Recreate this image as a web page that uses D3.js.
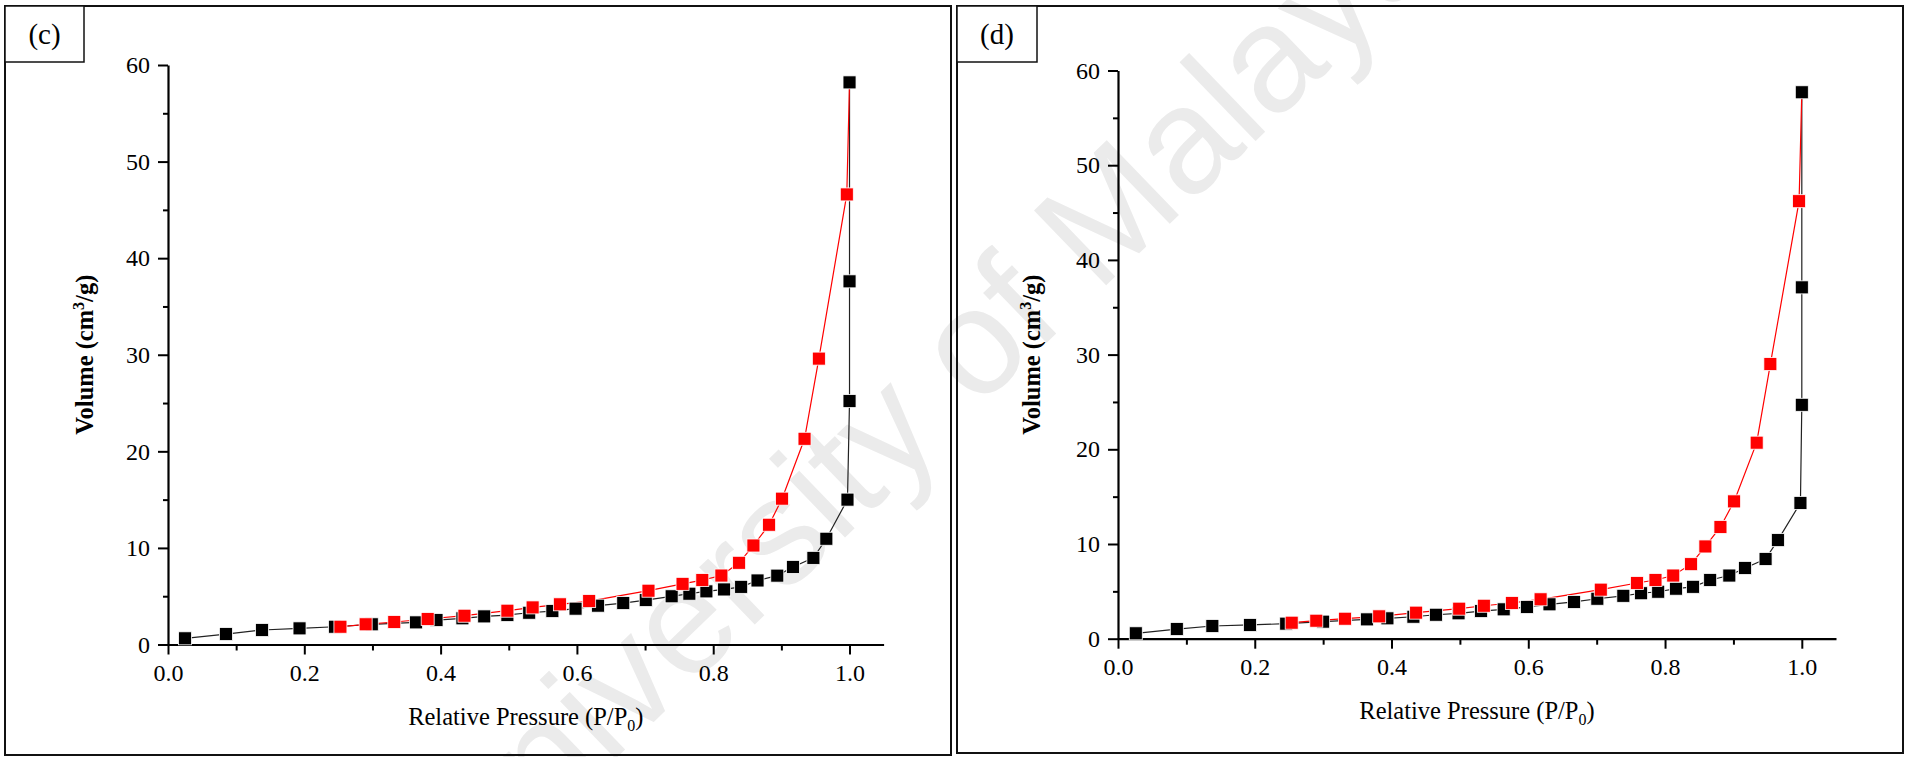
<!DOCTYPE html>
<html>
<head>
<meta charset="utf-8">
<script src="https://cdn.jsdelivr.net/npm/d3@7/dist/d3.min.js"></script>
<style>
  html, body { margin: 0; padding: 0; background: #fff; }
  svg { display: block; }
  text { font-family: "Liberation Serif", "Times New Roman", serif; fill: #000; }
</style>
</head>
<body>
<div id="chart"></div>
<script>
const WIDTH = 1910;
const HEIGHT = 757;
const SERIF = "'Liberation Serif', 'Times New Roman', serif";

// ---- data (P/P0, volume cm3/g) ----
// panel (c): adsorption (black) and desorption (red)
const adsC_P = [0.025, 0.085, 0.138, 0.193, 0.245, 0.299, 0.364, 0.394, 0.432, 0.464, 0.498, 0.530, 0.564, 0.598, 0.631, 0.668, 0.701, 0.739, 0.765, 0.790, 0.816, 0.841, 0.865, 0.894, 0.917, 0.947, 0.966, 0.997, 1.0, 1.0, 1.0];
const adsC_V = [0.64, 1.08, 1.50, 1.67, 1.84, 2.09, 2.29, 2.53, 2.71, 2.91, 3.05, 3.29, 3.46, 3.71, 4.02, 4.29, 4.60, 4.99, 5.26, 5.50, 5.70, 5.97, 6.63, 7.13, 8.03, 8.97, 10.95, 15.0, 25.2, 37.6, 58.2];
const desC_P = [0.996, 0.955, 0.934, 0.901, 0.882, 0.859, 0.838, 0.812, 0.784, 0.755, 0.705, 0.618, 0.575, 0.535, 0.498, 0.435, 0.381, 0.332, 0.290, 0.253];
const desC_V = [46.6, 29.6, 21.3, 15.1, 12.4, 10.25, 8.46, 7.14, 6.67, 6.28, 5.57, 4.50, 4.16, 3.84, 3.50, 2.98, 2.64, 2.33, 2.09, 1.84];

// panel (d)
const adsD_P = [0.026, 0.086, 0.138, 0.193, 0.246, 0.300, 0.364, 0.394, 0.432, 0.465, 0.498, 0.531, 0.564, 0.598, 0.631, 0.667, 0.701, 0.739, 0.765, 0.790, 0.816, 0.841, 0.866, 0.894, 0.917, 0.947, 0.965, 0.998, 1.0, 1.0, 1.0];
const adsD_V = [0.57, 1.02, 1.34, 1.45, 1.59, 1.80, 2.04, 2.15, 2.32, 2.53, 2.68, 2.92, 3.10, 3.35, 3.63, 3.88, 4.22, 4.53, 4.80, 4.96, 5.28, 5.48, 6.20, 6.67, 7.47, 8.42, 10.41, 14.34, 24.7, 37.1, 57.7];
const desD_P = [0.996, 0.954, 0.934, 0.901, 0.881, 0.859, 0.838, 0.812, 0.786, 0.759, 0.706, 0.618, 0.576, 0.535, 0.499, 0.436, 0.382, 0.332, 0.290, 0.254];
const desD_V = [46.2, 29.0, 20.7, 14.5, 11.8, 9.74, 7.87, 6.67, 6.20, 5.88, 5.18, 4.16, 3.77, 3.48, 3.17, 2.75, 2.36, 2.11, 1.90, 1.69];

const xMajor = [0, 0.2, 0.4, 0.6, 0.8, 1.0];
const xMinor = [0.1, 0.3, 0.5, 0.7, 0.9];
const yMajor = [0, 10, 20, 30, 40, 50, 60];
const yMinor = [5, 15, 25, 35, 45, 55];
const X_DOMAIN = [0, 1.05];
const Y_DOMAIN = [0, 60];

const panelLabels = ["(c)", "(d)"];
const watermarkText = "University of Malaya";

// layout of each panel (pixels)
const panels = [
  { label: panelLabels[0], frame: [5, 6, 946, 749], box: [5, 6, 79, 56],
    x0: 168, x1: 883.6, yTop: 65, yBot: 644.5, yTitleX: -84,
    adsP: adsC_P, adsV: adsC_V, desP: desC_P, desV: desC_V },
  { label: panelLabels[1], frame: [957, 6, 946, 747], box: [957, 6, 80, 56],
    x0: 1118, x1: 1836, yTop: 70.5, yBot: 638.7, yTitleX: -87,
    adsP: adsD_P, adsV: adsD_V, desP: desD_P, desV: desD_V }
];

const MARK = 13;
const RED = "#ff0000";

const svg = d3.select("#chart").append("svg")
  .attr("width", WIDTH)
  .attr("height", HEIGHT);

// watermark, behind everything
svg.append("text")
  .attr("transform", "translate(922,390) rotate(-44)")
  .attr("text-anchor", "middle")
  .attr("dominant-baseline", "central")
  .style("font-family", "'Liberation Sans', Arial, sans-serif")
  .style("font-size", "151px")
  .style("fill", "#ebebeb")
  .text(watermarkText);

function drawPanel(p) {
  const g = svg.append("g").attr("font-family", SERIF);

  // outer frame and label box
  g.append("rect")
    .attr("x", p.frame[0]).attr("y", p.frame[1])
    .attr("width", p.frame[2]).attr("height", p.frame[3])
    .attr("fill", "none").attr("stroke", "#111").attr("stroke-width", 2);
  g.append("rect")
    .attr("x", p.box[0]).attr("y", p.box[1])
    .attr("width", p.box[2]).attr("height", p.box[3])
    .attr("fill", "#fff").attr("stroke", "#111").attr("stroke-width", 1.5);
  g.append("text")
    .attr("x", p.box[0] + p.box[2] / 2)
    .attr("y", p.box[1] + p.box[3] / 2 + 10)
    .attr("text-anchor", "middle")
    .style("font-size", "29px")
    .text(p.label);

  const x = d3.scaleLinear().domain(X_DOMAIN).range([p.x0, p.x1]);
  const y = d3.scaleLinear().domain(Y_DOMAIN).range([p.yBot, p.yTop]);

  // axes
  g.append("g")
    .attr("transform", `translate(0,${p.yBot})`)
    .call(d3.axisBottom(x).tickValues(xMajor).tickSize(10).tickSizeOuter(0)
      .tickPadding(9).tickFormat(d3.format(".1f")));
  g.append("g")
    .attr("transform", `translate(0,${p.yBot})`)
    .call(d3.axisBottom(x).tickValues(xMinor).tickSize(6).tickSizeOuter(0).tickFormat(""))
    .select(".domain").remove();

  g.append("g")
    .attr("transform", `translate(${p.x0},0)`)
    .call(d3.axisLeft(y).tickValues(yMajor).tickSize(10).tickSizeOuter(0)
      .tickPadding(8).tickFormat(d3.format("d")));
  g.append("g")
    .attr("transform", `translate(${p.x0},0)`)
    .call(d3.axisLeft(y).tickValues(yMinor).tickSize(5).tickSizeOuter(0).tickFormat(""))
    .select(".domain").remove();

  g.selectAll("g").attr("font-family", SERIF);
  g.selectAll(".domain").attr("stroke", "#000").attr("stroke-width", 2.2);
  g.selectAll(".tick line").attr("stroke", "#000").attr("stroke-width", 2);
  g.selectAll(".tick text")
    .style("font-family", SERIF)
    .style("font-size", "24px")
    .attr("fill", "#000");

  // axis titles
  const xt = g.append("text")
    .attr("x", (p.x0 + p.x1) / 2)
    .attr("y", p.yBot + 80)
    .attr("text-anchor", "middle")
    .style("font-family", SERIF)
    .style("font-size", "24.5px");
  xt.append("tspan").text("Relative Pressure (P/P");
  xt.append("tspan").attr("dy", 6).style("font-size", "16px").text("0");
  xt.append("tspan").attr("dy", -6).text(")");

  const yt = g.append("text")
    .attr("transform", `translate(${p.x0 + p.yTitleX},${(p.yTop + p.yBot) / 2}) rotate(-90)`)
    .attr("text-anchor", "middle")
    .attr("dy", "0.35em")
    .style("font-family", SERIF)
    .style("font-size", "24.5px")
    .style("font-weight", "bold");
  yt.append("tspan").text("Volume (cm");
  yt.append("tspan").attr("dy", -9).style("font-size", "16px").text("3");
  yt.append("tspan").attr("dy", 9).text("/g)");

  // series
  const ads = p.adsP.map((d, i) => [d, p.adsV[i]]);
  const des = p.desP.map((d, i) => [d, p.desV[i]]);
  const line = d3.line().x(d => x(d[0])).y(d => y(d[1]));

  g.append("path")
    .datum(ads)
    .attr("d", line)
    .attr("fill", "none").attr("stroke", "#222").attr("stroke-width", 1.2);
  // desorption branch starts from the last adsorption point
  g.append("path")
    .datum([ads[ads.length - 1]].concat(des))
    .attr("d", line)
    .attr("fill", "none").attr("stroke", RED).attr("stroke-width", 1.2);

  g.append("g").selectAll("rect")
    .data(ads)
    .enter().append("rect")
    .attr("x", d => x(d[0]) - MARK / 2)
    .attr("y", d => y(d[1]) - MARK / 2)
    .attr("width", MARK).attr("height", MARK)
    .attr("fill", "#000").attr("stroke", "#fff").attr("stroke-width", 0.8);

  g.append("g").selectAll("rect")
    .data(des)
    .enter().append("rect")
    .attr("x", d => x(d[0]) - MARK / 2)
    .attr("y", d => y(d[1]) - MARK / 2)
    .attr("width", MARK).attr("height", MARK)
    .attr("fill", RED).attr("stroke", "#fff").attr("stroke-width", 0.8);
}

panels.forEach(drawPanel);
</script>
</body>
</html>
